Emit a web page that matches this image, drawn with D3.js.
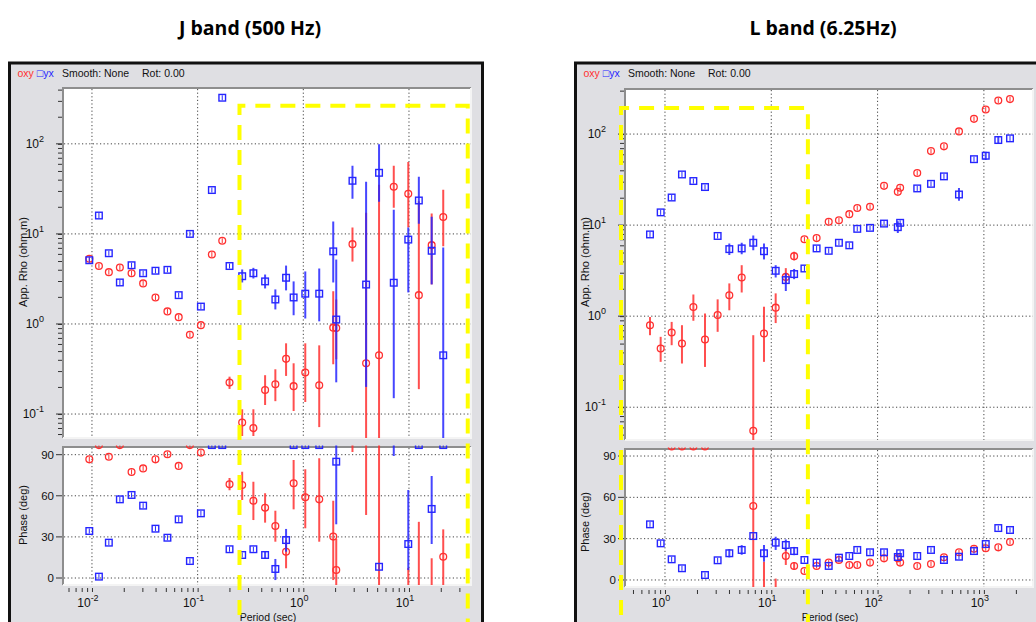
<!DOCTYPE html>
<html>
<head>
<meta charset="utf-8">
<script src="https://d3js.org/d3.v7.min.js"></script>
<style>
  body { margin: 0; background: #fff; }
  svg { display: block; font-family: "Liberation Sans", Arial, sans-serif; }
  .grid line { stroke: #444; stroke-width: 1; stroke-dasharray: 1.2,2.4; }
</style>
</head>
<body>
<svg id="chart" width="1036" height="622"></svg>
<script>
// each entry: [period (s), value, lower, upper]  (no bounds when the bar hides inside the marker)
var jRhoXY = [
  [0.00944, 5.3], [0.01164, 4.4], [0.01445, 3.76], [0.01837, 4.24], [0.0237, 3.66], [0.0305, 2.82],
  [0.0399, 1.97], [0.0518, 1.38], [0.0662, 1.19], [0.0845, 0.76], [0.1074, 0.97], [0.1364, 5.9], [0.171, 8.4],
  [0.2004, 0.224, 0.19, 0.26], [0.264, 0.0807, 0.057, 0.113], [0.337, 0.0698, 0.057, 0.113],
  [0.435, 0.185, 0.126, 0.27], [0.544, 0.214, 0.139, 0.314], [0.687, 0.41, 0.265, 0.61],
  [0.81, 0.204, 0.108, 0.366], [1.044, 0.289, 0.136, 0.61], [1.415, 0.209, 0.0716, 0.579],
  [1.92, 0.91, 0.357, 2.31], [2.05, 0.9, 0.406, 1.87], [2.92, 7.7, 4.93, 11.8], [3.93, 0.366, 0.01, 17.2],
  [5.21, 0.449, 0.01, 35.2], [7.18, 33.4, 19.5, 57], [9.85, 27.9, 11.8, 63], [12.4, 2.09, 0.189, 23],
  [16.4, 7.5, 2.75, 16.8], [21.1, 15.4, 7.3, 31]
];
var jRhoYX = [
  [0.00944, 5.1], [0.01164, 16], [0.01445, 6.1], [0.01837, 2.89], [0.0237, 4.49], [0.0305, 3.66],
  [0.0399, 3.9], [0.0518, 3.99], [0.0662, 2.09], [0.0845, 10], [0.1074, 1.56], [0.1364, 30.7], [0.171, 325],
  [0.2004, 4.4], [0.264, 3.39, 2.89, 4.03], [0.337, 3.66, 3.2, 4.2], [0.435, 2.97, 2.48, 3.54],
  [0.544, 1.87, 1.45, 2.42], [0.687, 3.26, 2.36, 4.45], [0.81, 1.97, 1.25, 2.97], [1.044, 2.17, 1.15, 3.83],
  [1.415, 2.17, 1.07, 4.13], [1.92, 6.4, 2.89, 13.7], [2.05, 1.12, 0.225, 5.19], [2.92, 38.9, 24.6, 57],
  [3.93, 2.74, 0.2, 37.9], [5.21, 47.7, 22.8, 99], [7.18, 2.87, 0.15, 18.6], [9.85, 8.65, 2.24, 11.8],
  [12.4, 23.5, 13, 43.2], [16.4, 6.5, 2.75, 15.5], [21.1, 0.449, 0.01, 7.05]
];
var jPhsXY = [
  [0.00944, 86.6], [0.01164, 97], [0.01445, 88.5], [0.01837, 97], [0.0237, 77.4], [0.0305, 80],
  [0.0399, 86.6], [0.0518, 90.3], [0.0662, 81.8], [0.0845, 97], [0.1074, 91.5],
  [0.2004, 68.4, 64, 73], [0.264, 67.9, 56.9, 77.6], [0.337, 56.4, 42.3, 70.3], [0.435, 51.3, 40.4, 61.8],
  [0.544, 38, 26.5, 49.1], [0.687, 19.2, 7.1, 27.7], [0.81, 69.1, 50.1, 86.1], [1.044, 58.9, 36.3, 79.3],
  [1.415, 57.4, 26.5, 87.4], [1.92, 30.2, -1.5, 56.4], [2.05, 5.8, -10, 28.5], [2.92, 100, 92, 108],
  [3.93, 105, 46, 160], [5.21, 120, -10, 250], [9.85, -20, -40, 7.3], [12.4, -15, -60, 41],
  [16.4, -25, -60, 14.4], [21.1, 15.5, -10, 35.5]
];
var jPhsYX = [
  [0.00944, 34.3], [0.01164, 1.0], [0.01445, 25.8], [0.01837, 57.4], [0.0237, 60.6], [0.0305, 52.8],
  [0.0399, 36], [0.0518, 29.4], [0.0662, 42.8], [0.0845, 12.4], [0.1074, 47.2], [0.1364, 97], [0.171, 97],
  [0.2004, 21], [0.264, 16.8], [0.337, 21], [0.435, 16.8, 14, 19.5], [0.544, 6.6, -1.5, 13.9],
  [0.687, 27.7, 19.2, 35.8], [0.81, 97], [1.044, 97], [1.415, 97], [2.05, 84.9, 39.2, 110], [5.21, 8.2],
  [7.18, 105, 89, 120], [9.85, 24.8, 5.8, 64.2], [12.4, 97], [16.4, 50.4, 24.8, 74.5], [21.1, 97]
];

var lRhoXY = [
  [0.723, 0.796, 0.618, 0.98], [0.911, 0.441, 0.315, 0.593], [1.156, 0.662, 0.48, 0.865],
  [1.445, 0.501, 0.302, 0.796], [1.85, 1.26, 0.89, 1.73], [2.38, 0.555, 0.277, 1.07], [3.13, 1.03, 0.673, 1.53],
  [4.03, 1.7, 1.16, 2.29], [5.27, 2.66, 1.82, 3.63], [6.77, 0.055, 0.02, 0.618], [8.54, 0.646, 0.315, 1.27],
  [11.0, 1.24, 0.84, 1.78], [13.7, 2.7, 2.29, 3.37], [16.4, 4.56, 4.1, 5.1], [20.5, 7.0], [26.7, 7.2],
  [34.7, 10.9], [43.3, 11.3], [54.2, 13.2], [64.4, 15.4], [84.9, 15.9], [115, 27], [155, 23.2], [163, 25.7],
  [236, 37.3], [318, 65], [421, 73.3], [583, 107], [807, 147], [1041, 186], [1366, 234], [1761, 242]
];
var lRhoYX = [
  [0.723, 7.9], [0.911, 13.8], [1.156, 20.1], [1.445, 36], [1.85, 30.5], [2.38, 26.2], [3.13, 7.6],
  [4.03, 5.45, 4.7, 6.3], [5.27, 5.55, 4.8, 6.4], [6.77, 6.4, 5.3, 7.7], [8.54, 5.17, 4.2, 6.3],
  [11.0, 3.15, 2.66, 3.63], [13.7, 2.49, 1.89, 2.96], [16.4, 2.9, 2.55, 3.3], [20.5, 3.34], [26.7, 5.55],
  [34.7, 5.22], [43.3, 6.4], [54.2, 6.0], [64.4, 9.1], [84.9, 9.33], [115, 10.4], [155, 9.5, 8.2, 11],
  [163, 10.6], [236, 25.3], [318, 28.4], [421, 34.3], [583, 21.7, 18.5, 25.5], [807, 53],
  [1041, 57.8, 52, 64], [1366, 86, 78, 95], [1761, 89.7]
];
var lPhsXY = [
  [1.156, 97], [1.445, 97], [1.85, 97], [2.38, 97], [6.77, 53.7, -10, 110], [8.54, -20, -40, 13.3],
  [11.0, -15, -30, 1], [13.7, 17.4, 10.9, 23], [16.4, 10.2, 7.5, 13], [20.5, 6.5], [26.7, 10.2], [34.7, 12.6],
  [43.3, 14.5], [54.2, 10.9], [64.4, 10.9], [84.9, 12.6], [115, 15.7], [155, 15.7], [163, 12.6], [236, 10.2],
  [318, 11.6], [421, 16.5], [583, 20.1], [807, 22.7], [1041, 23], [1366, 23.7], [1761, 27.6]
];
var lPhsYX = [
  [0.723, 40.4], [0.911, 26.6], [1.156, 15], [1.445, 8.5], [2.38, 3.6], [3.13, 14.3],
  [4.03, 19.4, 16.4, 22.4], [5.27, 21.8, 18.3, 25.3], [6.77, 31.9], [8.54, 19.4, 13.3, 25.4],
  [11.0, 27.1, 21.8, 31.4], [13.7, 25.4, 21.4, 29.4], [16.4, 21, 18, 24], [20.5, 14.5], [26.7, 12.6],
  [34.7, 10.2], [43.3, 16.2], [54.2, 17.4], [64.4, 21.8], [84.9, 20.1], [115, 20.1], [155, 16.7],
  [163, 19.4], [236, 17.4], [318, 21.8], [421, 14.5], [583, 16.9], [807, 21], [1041, 26.1],
  [1366, 37.7], [1761, 36.3]
];

var rhoDecades = [0.1, 1, 10, 100];
var phaseTicks = [0, 30, 60, 90];
var jPeriodDecades = [0.01, 0.1, 1, 10];
var lPeriodDecades = [1, 10, 100, 1000];
// selected window drawn in yellow: [period from, period to, top rho]
var jWindow = [0.249, 36, 264];
var lWindow = [0.386, 22.1, 193];

var RED = "#ff3030", BLUE = "#2626ff";

var svg = d3.select("#chart");

function expLabel(sel, x, y, exp, anchor) {
  var t = sel.append("text").attr("x", x).attr("y", y)
      .attr("text-anchor", anchor).attr("font-size", 12).attr("fill", "#111");
  t.append("tspan").text("10");
  t.append("tspan").attr("dy", -6).attr("font-size", 9).text(exp);
}

function drawPanel(p) {
  var g = svg.append("g");

  g.append("text")
      .attr("x", p.titleX).attr("y", 35)
      .attr("text-anchor", "middle")
      .attr("font-family", "'Open Sans', sans-serif")
      .attr("font-weight", 700).attr("font-size", 19.5)
      .text(p.title);

  g.append("rect")
      .attr("x", p.fx).attr("y", 63).attr("width", p.fw).attr("height", 600)
      .attr("fill", "#dfdfe3").attr("stroke", "#111").attr("stroke-width", 3);

  var head = g.append("text").attr("y", 77).attr("font-size", 10.5);
  head.append("tspan").attr("x", p.fx + 8).attr("fill", RED).text("oxy");
  head.append("tspan").attr("dx", 3).attr("fill", BLUE).text("\u25a1yx");
  head.append("tspan").attr("x", p.fx + 52.5).attr("fill", "#111").text("Smooth: None");
  head.append("tspan").attr("x", p.fx + 132.5).attr("fill", "#111").text("Rot: 0.00");

  var x = d3.scaleLog().domain(p.xDom).range([p.left, p.right]);
  var yR = d3.scaleLog().domain(p.rhoDom).range([p.rhoBot, p.rhoTop]);
  var yP = d3.scaleLinear().domain(p.phsDom).range([p.phsBot, p.phsTop]);

  [[yR, p.rhoTop, p.rhoBot, "r"], [yP, p.phsTop, p.phsBot, "p"]].forEach(function(b) {
    var top = b[1], bot = b[2];
    g.append("rect").attr("x", p.left).attr("y", top).attr("width", p.right - p.left)
        .attr("height", bot - top).attr("fill", "#fff");
    g.append("path")
        .attr("d", "M" + p.left + "," + bot + "V" + top + "H" + p.right)
        .attr("fill", "none").attr("stroke", "#8e8e8e").attr("stroke-width", 2);
    g.append("path")
        .attr("d", "M" + p.right + "," + top + "V" + bot + "H" + p.left)
        .attr("fill", "none").attr("stroke", "#f4f4f4").attr("stroke-width", 2);
    g.append("clipPath").attr("id", "clip-" + p.id + b[3])
      .append("rect").attr("x", p.left).attr("y", top - 1.5)
        .attr("width", p.right - p.left).attr("height", bot - top + 1.5);
  });

  // grid
  var grid = g.append("g").attr("class", "grid");
  p.xDecades.forEach(function(v) {
    grid.append("line").attr("x1", x(v)).attr("x2", x(v)).attr("y1", p.rhoTop + 1).attr("y2", p.rhoBot);
    grid.append("line").attr("x1", x(v)).attr("x2", x(v)).attr("y1", p.phsTop + 1).attr("y2", p.phsBot);
  });
  rhoDecades.forEach(function(v) {
    grid.append("line").attr("x1", p.left + 1).attr("x2", p.right).attr("y1", yR(v)).attr("y2", yR(v));
  });
  phaseTicks.forEach(function(v) {
    grid.append("line").attr("x1", p.left + 1).attr("x2", p.right).attr("y1", yP(v)).attr("y2", yP(v));
  });

  // rho axis ticks and labels
  var rhoMinor = [];
  d3.range(-2, 3).forEach(function(e) {
    d3.range(1, 10).forEach(function(m) {
      var v = m * Math.pow(10, e);
      if (v >= p.rhoDom[0] && v <= p.rhoDom[1]) rhoMinor.push(v);
    });
  });
  g.append("g").attr("transform", "translate(" + (p.left - 1) + ",0)")
      .call(d3.axisLeft(yR).tickValues(rhoMinor).tickSize(4).tickFormat(""))
      .call(function(a) { a.select(".domain").remove(); a.selectAll("line").attr("stroke", "#333"); });
  rhoDecades.forEach(function(v) {
    g.append("line").attr("x1", p.left - 7).attr("x2", p.left - 1)
        .attr("y1", yR(v)).attr("y2", yR(v)).attr("stroke", "#333");
    expLabel(g, p.left - 19, yR(v) + 4, Math.round(Math.log10(v)), "end");
  });

  // phase ticks and labels
  phaseTicks.forEach(function(v) {
    g.append("line").attr("x1", p.left - 7).attr("x2", p.left - 1)
        .attr("y1", yP(v)).attr("y2", yP(v)).attr("stroke", "#333");
    g.append("text").attr("x", p.left - 9).attr("y", yP(v) + 4)
        .attr("text-anchor", "end").attr("font-size", 11.5).attr("fill", "#111").text(v);
  });

  // period ticks below the phase plot
  var xMinor = [];
  d3.range(-3, 4).forEach(function(e) {
    d3.range(1, 10).forEach(function(m) {
      var v = m * Math.pow(10, e);
      if (v >= p.xDom[0] && v <= p.xDom[1]) xMinor.push(v);
    });
  });
  g.append("g").attr("transform", "translate(0," + (p.phsBot + 3) + ")")
      .call(d3.axisBottom(x).tickValues(xMinor).tickSize(4).tickFormat(""))
      .call(function(a) { a.select(".domain").remove(); a.selectAll("line").attr("stroke", "#333"); });
  p.xDecades.forEach(function(v) {
    expLabel(g, x(v) - 4, 607, Math.round(Math.log10(v)), "middle");
  });

  g.append("text").attr("transform", "translate(" + p.labelX + ",262) rotate(-90)")
      .attr("text-anchor", "middle").attr("font-size", 11).attr("fill", "#111").text("App. Rho (ohm.m)");
  g.append("text").attr("transform", "translate(" + p.labelX + "," + p.phsLabelY + ") rotate(-90)")
      .attr("text-anchor", "middle").attr("font-size", 11).attr("fill", "#111").text("Phase (deg)");
  g.append("text").attr("x", p.periodX).attr("y", 621)
      .attr("text-anchor", "middle").attr("font-size", 10.5).attr("fill", "#111").text("Period (sec)");

  function series(data, y, clipId, color, square) {
    var s = g.append("g").attr("clip-path", "url(#" + clipId + ")");
    data.forEach(function(d) {
      var cx = x(d[0]), cy = y(d[1]);
      if (d.length > 2) {
        s.append("line").attr("x1", cx).attr("x2", cx)
            .attr("y1", y(d[2])).attr("y2", y(d[3]))
            .attr("stroke", color).attr("stroke-opacity", 0.85).attr("stroke-width", 2);
      } else {
        s.append("line").attr("x1", cx).attr("x2", cx).attr("y1", cy - 2.5).attr("y2", cy + 2.5)
            .attr("stroke", color).attr("stroke-width", 1);
      }
      if (square) {
        s.append("rect").attr("x", cx - 3.3).attr("y", cy - 3.3).attr("width", 6.6).attr("height", 6.6)
            .attr("fill", "none").attr("stroke", color).attr("stroke-width", 1.4);
      } else {
        s.append("circle").attr("cx", cx).attr("cy", cy).attr("r", 3.4)
            .attr("fill", "none").attr("stroke", color).attr("stroke-width", 1.3);
      }
    });
  }
  series(p.rhoXY, yR, "clip-" + p.id + "r", RED, false);
  series(p.rhoYX, yR, "clip-" + p.id + "r", BLUE, true);
  series(p.phsXY, yP, "clip-" + p.id + "p", RED, false);
  series(p.phsYX, yP, "clip-" + p.id + "p", BLUE, true);

  // yellow selection window
  var w = p.window;
  g.append("path")
      .attr("d", "M" + x(w[0]) + ",640V" + yR(w[2]) + "H" + x(w[1]) + "V640")
      .attr("fill", "none").attr("stroke", "#ffff00").attr("stroke-width", 4)
      .attr("stroke-dasharray", "15,10");
}

drawPanel({
  id: "j", title: "J band (500 Hz)", titleX: 250, fx: 9.5, fw: 473,
  left: 63, right: 471, rhoTop: 88, rhoBot: 438, phsTop: 447, phsBot: 585,
  xDom: [Math.pow(10, -2.274), Math.pow(10, 1.587)],
  rhoDom: [Math.pow(10, -1.266), Math.pow(10, 2.62)],
  phsDom: [-5.1, 95.6],
  xDecades: jPeriodDecades, labelX: 27, phsLabelY: 515, periodX: 268,
  rhoXY: jRhoXY, rhoYX: jRhoYX, phsXY: jPhsXY, phsYX: jPhsYX, window: jWindow
});

drawPanel({
  id: "l", title: "L band (6.25Hz)", titleX: 823, fx: 575.5, fw: 480,
  left: 625, right: 1033, rhoTop: 89, rhoBot: 440, phsTop: 449, phsBot: 587,
  xDom: [Math.pow(10, -0.376), Math.pow(10, 3.462)],
  rhoDom: [Math.pow(10, -1.36), Math.pow(10, 2.495)],
  phsDom: [-5.1, 95.1],
  xDecades: lPeriodDecades, labelX: 589, phsLabelY: 522, periodX: 830,
  rhoXY: lRhoXY, rhoYX: lRhoYX, phsXY: lPhsXY, phsYX: lPhsYX, window: lWindow
});
</script>
</body>
</html>
